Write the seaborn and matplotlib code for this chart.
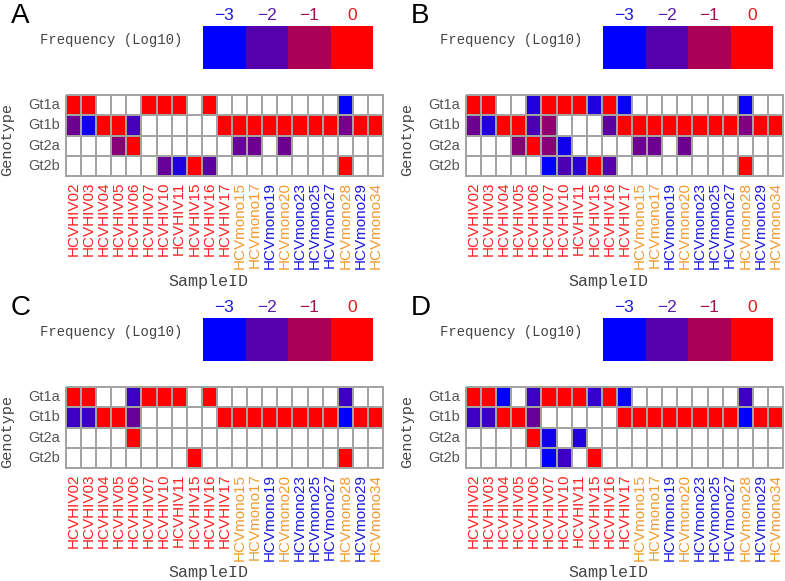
import numpy as np
import pandas as pd
import matplotlib
matplotlib.use("Agg")
import matplotlib.pyplot as plt
import seaborn as sns
from matplotlib.colors import LinearSegmentedColormap, ListedColormap

n = np.nan

samples = ["HCVHIV02", "HCVHIV03", "HCVHIV04", "HCVHIV05", "HCVHIV06", "HCVHIV07",
           "HCVHIV10", "HCVHIV11", "HCVHIV15", "HCVHIV16", "HCVHIV17",
           "HCVmono15", "HCVmono17", "HCVmono19", "HCVmono20", "HCVmono23",
           "HCVmono25", "HCVmono27", "HCVmono28", "HCVmono29", "HCVmono34"]
sample_colors = ["#FF2020"] * 11 + ["#F39A2E", "#F39A2E", "#1A1AE0", "#F39A2E", "#1A1AE0",
                                   "#1A1AE0", "#1A1AE0", "#F39A2E", "#1A1AE0", "#F39A2E"]
genotypes = ["Gt1a", "Gt1b", "Gt2a", "Gt2b"]

legend_values = [-3, -2, -1, 0]
legend_labels = ["\u22123", "\u22122", "\u22121", "0"]
legend_label_colors = ["#1A1AE0", "#5A1AAA", "#A01055", "#E01A1A"]

# Panel A
A_gt1a = [0, 0, n, n, n, 0, 0, 0, n, 0, n, n, n, n, n, n, n, n, -3, n, n]
A_gt1b = [-1.7, -2.8, 0, 0, -2.2, n, n, n, n, n, 0, 0, 0, 0, 0, 0, 0, 0, -1.6, 0, 0]
A_gt2a = [n, n, n, -1.4, 0, n, n, n, n, n, n, -1.8, -1.7, n, -1.7, n, n, n, n, n, n]
A_gt2b = [n, n, n, n, n, n, -1.8, -2.6, 0, -1.9, n, n, n, n, n, n, n, n, 0, n, n]
# Panel B
B_gt1a = [0, 0, n, n, -2.6, 0, 0, 0, -2.6, 0, -2.9, n, n, n, n, n, n, n, -2.9, n, n]
B_gt1b = [-1.7, -2.6, 0, 0, -2.1, -1.3, n, n, n, -1.9, 0, 0, 0, 0, 0, 0, 0, 0, -1.5, 0, 0]
B_gt2a = [n, n, n, -1.4, 0, -1.4, -2.8, n, n, n, n, -1.7, -1.7, n, -1.7, n, n, n, n, n, n]
B_gt2b = [n, n, n, n, n, -3, -2.1, -2.5, 0, -2.0, n, n, n, n, n, n, n, n, 0, n, n]
# Panel C
C_gt1a = [0, 0, n, n, -2.3, 0, 0, 0, n, 0, n, n, n, n, n, n, n, n, -2.3, n, n]
C_gt1b = [-2.3, -2.3, 0, 0, -1.8, n, n, n, n, n, 0, 0, 0, 0, 0, 0, 0, 0, -3, 0, 0]
C_gt2a = [n, n, n, n, 0, n, n, n, n, n, n, n, n, n, n, n, n, n, n, n, n]
C_gt2b = [n, n, n, n, n, n, n, n, 0, n, n, n, n, n, n, n, n, n, 0, n, n]
# Panel D
D_gt1a = [0, 0, -3, n, -2.3, 0, 0, 0, -2.4, 0, -2.9, n, n, n, n, n, n, n, -2.3, n, n]
D_gt1b = [-2.3, -2.3, 0, 0, -1.8, n, n, n, n, n, 0, 0, 0, 0, 0, 0, 0, 0, -3, 0, 0]
D_gt2a = [n, n, n, n, 0, -2.8, n, -2.6, n, n, n, n, n, n, n, n, n, n, n, n, n]
D_gt2b = [n, n, n, n, n, -3, -2.3, n, 0, n, n, n, n, n, n, n, n, n, n, n, n]

panels = {
    "A": [A_gt1a, A_gt1b, A_gt2a, A_gt2b],
    "B": [B_gt1a, B_gt1b, B_gt2a, B_gt2b],
    "C": [C_gt1a, C_gt1b, C_gt2a, C_gt2b],
    "D": [D_gt1a, D_gt1b, D_gt2a, D_gt2b],
}

cmap = LinearSegmentedColormap.from_list("br", ["#0000FF", "#FF0000"])
white = ListedColormap(["white"])

W, H = 785, 581
fig = plt.figure(figsize=(W / 100, H / 100), dpi=100)
fig.patch.set_facecolor("white")

mono = "Liberation Mono"
sans = "Liberation Sans"
grey_line = "#A3A3A3"
LW = 1.1

def fx(px):
    return px / W

def fy(py):
    return 1 - py / H

offsets = {"A": (0, 0), "B": (400, 0), "C": (0, 292), "D": (400, 292)}

for key, rows in panels.items():
    ox, oy = offsets[key]
    df = pd.DataFrame(rows, index=genotypes, columns=samples)

    hl, hr, ht, hb = 66 + ox, 383 + ox, 95 + oy, 176 + oy
    ax = fig.add_axes([fx(hl), fy(hb), fx(hr - hl), (hb - ht) / H])
    sns.heatmap(df.notna().astype(float) * 0, ax=ax, cmap=white, cbar=False,
                linewidths=LW, linecolor=grey_line)
    sns.heatmap(df, ax=ax, cmap=cmap, vmin=-3, vmax=0, cbar=False,
                linewidths=LW, linecolor=grey_line,
                xticklabels=samples, yticklabels=genotypes)
    for coll in ax.collections:
        coll.set_clip_on(False)
    ax.tick_params(length=0, pad=4)
    ax.set_xticklabels(samples, rotation=90, fontsize=11, family=sans)
    for lab, c in zip(ax.get_xticklabels(), sample_colors):
        lab.set_color(c)
    ax.set_yticklabels(genotypes, rotation=0, fontsize=10.5, family=sans, color="#555555")
    ax.set_xlabel("")
    ax.set_ylabel("")

    fig.text(fx(7 + ox), fy(140 + oy), "Genotype", rotation=90, ha="center", va="center",
             fontsize=11, family=mono, color="#444444")
    fig.text(fx(208 + ox), fy(281 + oy), "SampleID", ha="center", va="center",
             fontsize=12, family=mono, color="#444444")

    ll, lr, lt, lb = 203 + ox, 373 + ox, 26 + oy, 69 + oy
    lax = fig.add_axes([fx(ll), fy(lb), fx(lr - ll), (lb - lt) / H])
    ldf = pd.DataFrame([legend_values], columns=legend_labels)
    sns.heatmap(ldf, ax=lax, cmap=cmap, vmin=-3, vmax=0, cbar=False,
                xticklabels=legend_labels, yticklabels=False)
    lax.xaxis.tick_top()
    lax.tick_params(length=0, pad=2)
    for lab, c in zip(lax.get_xticklabels(), legend_label_colors):
        lab.set_color(c)
        lab.set_fontsize(12.5)
        lab.set_family(sans)
        lab.set_rotation(0)
    lax.set_xlabel("")
    lax.set_ylabel("")
    fig.text(fx(182 + ox), fy(40 + oy), "Frequency (Log10)", ha="right", va="center",
             fontsize=10, family=mono, color="#444444")

    fig.text(fx(11 + ox), fy(23 + oy), key,
             ha="left", va="baseline", fontsize=20, family=sans, color="black")

fig.savefig("out.png", dpi=100, facecolor="white")
